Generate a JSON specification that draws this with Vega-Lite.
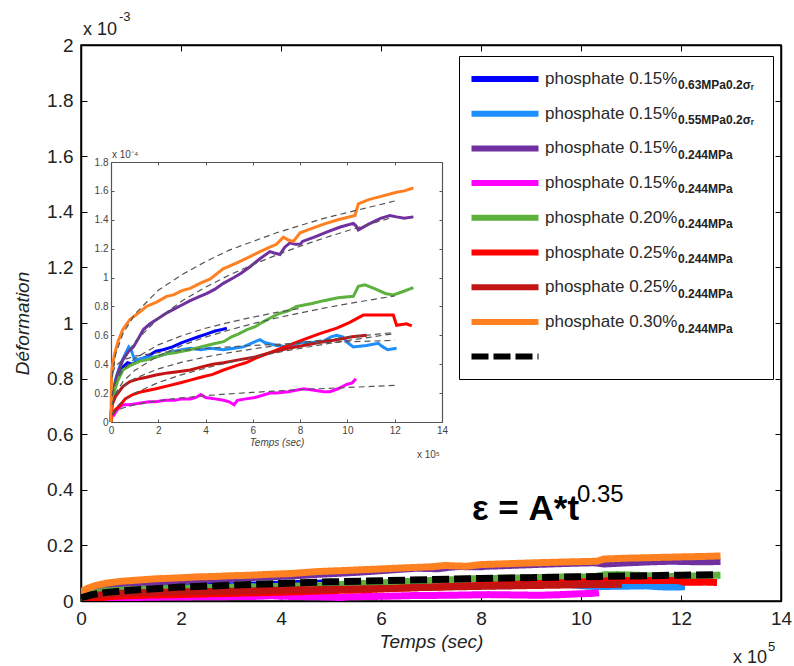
{
  "$schema": "https://vega.github.io/schema/vega-lite/v6.json",
  "width": 700,
  "height": 556,
  "autosize": "none",
  "padding": {"left": 81, "top": 45, "right": 13, "bottom": 65},
  "background": "white",
  "config": {
    "view": {"stroke": "black", "strokeWidth": 1.5},
    "font": "Liberation Sans",
    "axis": {"grid": false, "labelFont": "Liberation Sans", "titleFont": "Liberation Sans", "labelFlush": false, "labelOverlap": false}
  },
  "datasets": {
    "curves": [
      {"s":"1","t":0,"v":0},{"s":"1","t":0.03,"v":0.15},{"s":"1","t":0.1,"v":0.22},{"s":"1","t":0.2,"v":0.27},{"s":"1","t":0.35,"v":0.33},{"s":"1","t":0.5,"v":0.38},{"s":"1","t":0.7,"v":0.41},{"s":"1","t":0.9,"v":0.40},{"s":"1","t":1.2,"v":0.43},{"s":"1","t":1.5,"v":0.45},{"s":"1","t":1.9,"v":0.49},{"s":"1","t":2.2,"v":0.50},{"s":"1","t":2.6,"v":0.52},{"s":"1","t":3.0,"v":0.55},{"s":"1","t":3.35,"v":0.57},{"s":"1","t":3.7,"v":0.59},{"s":"1","t":4.06,"v":0.61},{"s":"1","t":4.4,"v":0.63},{"s":"1","t":4.7,"v":0.64},{"s":"1","t":4.9,"v":0.65},
      {"s":"2","t":0,"v":0},{"s":"2","t":0.05,"v":0.18},{"s":"2","t":0.2,"v":0.3},{"s":"2","t":0.4,"v":0.4},{"s":"2","t":0.6,"v":0.47},{"s":"2","t":0.75,"v":0.52},{"s":"2","t":0.85,"v":0.50},{"s":"2","t":1.0,"v":0.43},{"s":"2","t":1.3,"v":0.44},{"s":"2","t":1.6,"v":0.45},{"s":"2","t":1.9,"v":0.45},{"s":"2","t":2.3,"v":0.47},{"s":"2","t":2.7,"v":0.49},{"s":"2","t":3.0,"v":0.50},{"s":"2","t":3.35,"v":0.51},{"s":"2","t":3.8,"v":0.50},{"s":"2","t":4.2,"v":0.51},{"s":"2","t":4.76,"v":0.50},{"s":"2","t":5.2,"v":0.51},{"s":"2","t":5.6,"v":0.52},{"s":"2","t":6.0,"v":0.55},{"s":"2","t":6.3,"v":0.57},{"s":"2","t":6.5,"v":0.55},{"s":"2","t":7.0,"v":0.53},{"s":"2","t":7.5,"v":0.52},{"s":"2","t":8.0,"v":0.55},{"s":"2","t":8.5,"v":0.55},{"s":"2","t":9.0,"v":0.56},{"s":"2","t":9.3,"v":0.59},{"s":"2","t":9.55,"v":0.60},{"s":"2","t":9.8,"v":0.59},{"s":"2","t":10.0,"v":0.55},{"s":"2","t":10.25,"v":0.52},{"s":"2","t":10.8,"v":0.53},{"s":"2","t":11.3,"v":0.545},{"s":"2","t":11.5,"v":0.52},{"s":"2","t":11.7,"v":0.50},{"s":"2","t":12.08,"v":0.51},
      {"s":"3","t":0,"v":0},{"s":"3","t":0.03,"v":0.12},{"s":"3","t":0.1,"v":0.2},{"s":"3","t":0.25,"v":0.32},{"s":"3","t":0.5,"v":0.43},{"s":"3","t":0.75,"v":0.49},{"s":"3","t":0.95,"v":0.52},{"s":"3","t":1.2,"v":0.59},{"s":"3","t":1.37,"v":0.64},{"s":"3","t":1.65,"v":0.68},{"s":"3","t":1.93,"v":0.71},{"s":"3","t":2.3,"v":0.75},{"s":"3","t":2.64,"v":0.78},{"s":"3","t":3.0,"v":0.81},{"s":"3","t":3.35,"v":0.84},{"s":"3","t":3.76,"v":0.87},{"s":"3","t":4.06,"v":0.89},{"s":"3","t":4.4,"v":0.92},{"s":"3","t":4.75,"v":0.96},{"s":"3","t":5.2,"v":1.00},{"s":"3","t":5.5,"v":1.03},{"s":"3","t":5.88,"v":1.075},{"s":"3","t":6.3,"v":1.13},{"s":"3","t":6.72,"v":1.18},{"s":"3","t":6.9,"v":1.17},{"s":"3","t":7.15,"v":1.16},{"s":"3","t":7.35,"v":1.21},{"s":"3","t":7.57,"v":1.24},{"s":"3","t":7.8,"v":1.23},{"s":"3","t":8.0,"v":1.23},{"s":"3","t":8.1,"v":1.25},{"s":"3","t":8.6,"v":1.28},{"s":"3","t":9.2,"v":1.32},{"s":"3","t":9.7,"v":1.35},{"s":"3","t":10.25,"v":1.375},{"s":"3","t":10.35,"v":1.36},{"s":"3","t":10.46,"v":1.33},{"s":"3","t":10.9,"v":1.37},{"s":"3","t":11.4,"v":1.41},{"s":"3","t":11.8,"v":1.43},{"s":"3","t":12.08,"v":1.42},{"s":"3","t":12.4,"v":1.41},{"s":"3","t":12.79,"v":1.42},
      {"s":"4","t":0.1,"v":0.04},{"s":"4","t":0.2,"v":0.07},{"s":"4","t":0.35,"v":0.10},{"s":"4","t":0.5,"v":0.12},{"s":"4","t":0.8,"v":0.12},{"s":"4","t":1.2,"v":0.13},{"s":"4","t":1.6,"v":0.14},{"s":"4","t":1.9,"v":0.14},{"s":"4","t":2.3,"v":0.15},{"s":"4","t":2.7,"v":0.15},{"s":"4","t":3.0,"v":0.16},{"s":"4","t":3.35,"v":0.16},{"s":"4","t":3.6,"v":0.17},{"s":"4","t":3.8,"v":0.19},{"s":"4","t":4.0,"v":0.17},{"s":"4","t":4.4,"v":0.16},{"s":"4","t":4.76,"v":0.15},{"s":"4","t":5.0,"v":0.14},{"s":"4","t":5.2,"v":0.12},{"s":"4","t":5.35,"v":0.15},{"s":"4","t":5.7,"v":0.16},{"s":"4","t":6.1,"v":0.17},{"s":"4","t":6.73,"v":0.20},{"s":"4","t":7.0,"v":0.20},{"s":"4","t":7.5,"v":0.21},{"s":"4","t":8.14,"v":0.23},{"s":"4","t":8.6,"v":0.22},{"s":"4","t":9.0,"v":0.21},{"s":"4","t":9.26,"v":0.21},{"s":"4","t":9.6,"v":0.23},{"s":"4","t":9.97,"v":0.26},{"s":"4","t":10.2,"v":0.27},{"s":"4","t":10.36,"v":0.30},
      {"s":"5","t":0,"v":0},{"s":"5","t":0.05,"v":0.15},{"s":"5","t":0.15,"v":0.22},{"s":"5","t":0.3,"v":0.29},{"s":"5","t":0.5,"v":0.36},{"s":"5","t":0.8,"v":0.39},{"s":"5","t":1.2,"v":0.42},{"s":"5","t":1.5,"v":0.43},{"s":"5","t":1.9,"v":0.45},{"s":"5","t":2.3,"v":0.47},{"s":"5","t":2.7,"v":0.48},{"s":"5","t":3.0,"v":0.49},{"s":"5","t":3.35,"v":0.50},{"s":"5","t":3.8,"v":0.52},{"s":"5","t":4.3,"v":0.54},{"s":"5","t":4.76,"v":0.556},{"s":"5","t":5.1,"v":0.59},{"s":"5","t":5.4,"v":0.61},{"s":"5","t":5.75,"v":0.64},{"s":"5","t":6.1,"v":0.66},{"s":"5","t":6.4,"v":0.69},{"s":"5","t":6.73,"v":0.72},{"s":"5","t":7.1,"v":0.75},{"s":"5","t":7.5,"v":0.77},{"s":"5","t":7.85,"v":0.80},{"s":"5","t":8.5,"v":0.82},{"s":"5","t":9.0,"v":0.84},{"s":"5","t":9.6,"v":0.86},{"s":"5","t":10.25,"v":0.87},{"s":"5","t":10.46,"v":0.94},{"s":"5","t":10.74,"v":0.95},{"s":"5","t":11.2,"v":0.92},{"s":"5","t":11.6,"v":0.89},{"s":"5","t":11.94,"v":0.88},{"s":"5","t":12.3,"v":0.90},{"s":"5","t":12.79,"v":0.93},
      {"s":"6","t":0,"v":0},{"s":"6","t":0.05,"v":0.05},{"s":"6","t":0.15,"v":0.08},{"s":"6","t":0.35,"v":0.11},{"s":"6","t":0.6,"v":0.16},{"s":"6","t":0.92,"v":0.19},{"s":"6","t":1.3,"v":0.21},{"s":"6","t":1.9,"v":0.23},{"s":"6","t":2.4,"v":0.25},{"s":"6","t":2.9,"v":0.27},{"s":"6","t":3.35,"v":0.29},{"s":"6","t":3.8,"v":0.31},{"s":"6","t":4.3,"v":0.33},{"s":"6","t":4.76,"v":0.36},{"s":"6","t":5.3,"v":0.39},{"s":"6","t":5.7,"v":0.41},{"s":"6","t":6.1,"v":0.44},{"s":"6","t":6.73,"v":0.48},{"s":"6","t":7.5,"v":0.53},{"s":"6","t":8.14,"v":0.57},{"s":"6","t":8.8,"v":0.61},{"s":"6","t":9.55,"v":0.65},{"s":"6","t":10.1,"v":0.69},{"s":"6","t":10.67,"v":0.74},{"s":"6","t":11.3,"v":0.74},{"s":"6","t":11.94,"v":0.74},{"s":"6","t":12.08,"v":0.67},{"s":"6","t":12.5,"v":0.68},{"s":"6","t":12.72,"v":0.665},
      {"s":"7","t":0,"v":0.05},{"s":"7","t":0.05,"v":0.12},{"s":"7","t":0.2,"v":0.18},{"s":"7","t":0.5,"v":0.245},{"s":"7","t":0.8,"v":0.28},{"s":"7","t":1.2,"v":0.30},{"s":"7","t":1.5,"v":0.31},{"s":"7","t":1.9,"v":0.325},{"s":"7","t":2.4,"v":0.34},{"s":"7","t":2.9,"v":0.35},{"s":"7","t":3.35,"v":0.36},{"s":"7","t":3.8,"v":0.38},{"s":"7","t":4.3,"v":0.40},{"s":"7","t":4.76,"v":0.41},{"s":"7","t":5.4,"v":0.43},{"s":"7","t":6.1,"v":0.45},{"s":"7","t":6.73,"v":0.48},{"s":"7","t":7.5,"v":0.51},{"s":"7","t":8.14,"v":0.53},{"s":"7","t":8.8,"v":0.55},{"s":"7","t":9.55,"v":0.57},{"s":"7","t":10.2,"v":0.59},{"s":"7","t":10.82,"v":0.60},
      {"s":"8","t":0,"v":0},{"s":"8","t":0.02,"v":0.3},{"s":"8","t":0.05,"v":0.38},{"s":"8","t":0.15,"v":0.47},{"s":"8","t":0.3,"v":0.56},{"s":"8","t":0.5,"v":0.64},{"s":"8","t":0.8,"v":0.71},{"s":"8","t":1.2,"v":0.76},{"s":"8","t":1.5,"v":0.80},{"s":"8","t":1.93,"v":0.83},{"s":"8","t":2.35,"v":0.87},{"s":"8","t":2.64,"v":0.88},{"s":"8","t":3.0,"v":0.91},{"s":"8","t":3.35,"v":0.925},{"s":"8","t":3.76,"v":0.96},{"s":"8","t":4.2,"v":0.99},{"s":"8","t":4.74,"v":1.06},{"s":"8","t":5.3,"v":1.10},{"s":"8","t":5.88,"v":1.145},{"s":"8","t":6.3,"v":1.18},{"s":"8","t":6.72,"v":1.21},{"s":"8","t":7.0,"v":1.23},{"s":"8","t":7.29,"v":1.28},{"s":"8","t":7.5,"v":1.26},{"s":"8","t":7.71,"v":1.25},{"s":"8","t":8.0,"v":1.31},{"s":"8","t":8.5,"v":1.34},{"s":"8","t":9.0,"v":1.37},{"s":"8","t":9.6,"v":1.40},{"s":"8","t":10.32,"v":1.43},{"s":"8","t":10.46,"v":1.51},{"s":"8","t":10.9,"v":1.54},{"s":"8","t":11.38,"v":1.56},{"s":"8","t":12.08,"v":1.59},{"s":"8","t":12.4,"v":1.60},{"s":"8","t":12.79,"v":1.62}
    ],
    "fits": [
      {"f":"o","t":0.05,"v":0.31},{"f":"o","t":0.2,"v":0.47},{"f":"o","t":0.5,"v":0.61},{"f":"o","t":1,"v":0.745},{"f":"o","t":2,"v":0.912},{"f":"o","t":3,"v":1.02},{"f":"o","t":4,"v":1.11},{"f":"o","t":5,"v":1.19},{"f":"o","t":6,"v":1.25},{"f":"o","t":7,"v":1.31},{"f":"o","t":8,"v":1.36},{"f":"o","t":9,"v":1.41},{"f":"o","t":10,"v":1.45},{"f":"o","t":11,"v":1.49},{"f":"o","t":12,"v":1.53},
      {"f":"p","t":0.05,"v":0.177},{"f":"p","t":0.2,"v":0.30},{"f":"p","t":0.5,"v":0.42},{"f":"p","t":1,"v":0.552},{"f":"p","t":2,"v":0.718},{"f":"p","t":3,"v":0.838},{"f":"p","t":4,"v":0.934},{"f":"p","t":5,"v":1.017},{"f":"p","t":6,"v":1.09},{"f":"p","t":7,"v":1.156},{"f":"p","t":8,"v":1.217},{"f":"p","t":9,"v":1.273},{"f":"p","t":10,"v":1.324},{"f":"p","t":11,"v":1.373},{"f":"p","t":12,"v":1.42},
      {"f":"g","t":0.05,"v":0.121},{"f":"g","t":0.2,"v":0.20},{"f":"g","t":0.5,"v":0.278},{"f":"g","t":1,"v":0.357},{"f":"g","t":2,"v":0.458},{"f":"g","t":3,"v":0.53},{"f":"g","t":4,"v":0.588},{"f":"g","t":5,"v":0.637},{"f":"g","t":6,"v":0.681},{"f":"g","t":7,"v":0.72},{"f":"g","t":8,"v":0.755},{"f":"g","t":9,"v":0.788},{"f":"g","t":10,"v":0.818},{"f":"g","t":11,"v":0.846},{"f":"g","t":12,"v":0.873},
      {"f":"b","t":0.05,"v":0.19},{"f":"b","t":0.2,"v":0.28},{"f":"b","t":0.5,"v":0.36},{"f":"b","t":1,"v":0.44},{"f":"b","t":2,"v":0.534},{"f":"b","t":3,"v":0.598},{"f":"b","t":4,"v":0.649},{"f":"b","t":5,"v":0.69},{"f":"b","t":6,"v":0.726},{"f":"b","t":7,"v":0.759},{"f":"b","t":8,"v":0.787},
      {"f":"l","t":0.05,"v":0.34},{"f":"l","t":0.2,"v":0.39},{"f":"l","t":0.5,"v":0.43},{"f":"l","t":1,"v":0.455},{"f":"l","t":2,"v":0.48},{"f":"l","t":4,"v":0.51},{"f":"l","t":6,"v":0.53},{"f":"l","t":8,"v":0.545},{"f":"l","t":10,"v":0.555},{"f":"l","t":12,"v":0.565},
      {"f":"r","t":0.05,"v":0.052},{"f":"r","t":0.2,"v":0.097},{"f":"r","t":0.5,"v":0.146},{"f":"r","t":1,"v":0.2},{"f":"r","t":2,"v":0.273},{"f":"r","t":3,"v":0.328},{"f":"r","t":4,"v":0.373},{"f":"r","t":5,"v":0.413},{"f":"r","t":6,"v":0.448},{"f":"r","t":7,"v":0.48},{"f":"r","t":8,"v":0.51},{"f":"r","t":9,"v":0.538},{"f":"r","t":10,"v":0.564},{"f":"r","t":11,"v":0.588},{"f":"r","t":12,"v":0.612},
      {"f":"d","t":0.05,"v":0.126},{"f":"d","t":0.2,"v":0.189},{"f":"d","t":0.5,"v":0.246},{"f":"d","t":1,"v":0.301},{"f":"d","t":2,"v":0.368},{"f":"d","t":3,"v":0.414},{"f":"d","t":4,"v":0.45},{"f":"d","t":5,"v":0.48},{"f":"d","t":6,"v":0.506},{"f":"d","t":7,"v":0.529},{"f":"d","t":8,"v":0.55},{"f":"d","t":9,"v":0.569},{"f":"d","t":10,"v":0.587},{"f":"d","t":11,"v":0.604},{"f":"d","t":12,"v":0.619},
      {"f":"m","t":0.05,"v":0.049},{"f":"m","t":0.2,"v":0.074},{"f":"m","t":0.5,"v":0.097},{"f":"m","t":1,"v":0.12},{"f":"m","t":2,"v":0.148},{"f":"m","t":3,"v":0.167},{"f":"m","t":4,"v":0.182},{"f":"m","t":5,"v":0.195},{"f":"m","t":6,"v":0.205},{"f":"m","t":7,"v":0.215},{"f":"m","t":8,"v":0.224},{"f":"m","t":9,"v":0.232},{"f":"m","t":10,"v":0.239},{"f":"m","t":11,"v":0.246},{"f":"m","t":12,"v":0.253}
    ],
    "mainfit": [
      {"s":"9","t":0,"v":0.12},{"s":"9","t":0.05,"v":0.14},{"s":"9","t":0.2,"v":0.22},{"s":"9","t":0.5,"v":0.31},{"s":"9","t":1,"v":0.39},{"s":"9","t":2,"v":0.50},{"s":"9","t":3,"v":0.57},{"s":"9","t":4,"v":0.63},{"s":"9","t":5,"v":0.69},{"s":"9","t":6,"v":0.73},{"s":"9","t":7,"v":0.77},{"s":"9","t":8,"v":0.81},{"s":"9","t":9,"v":0.84},{"s":"9","t":10,"v":0.87},{"s":"9","t":11,"v":0.90},{"s":"9","t":12,"v":0.93},{"s":"9","t":12.7,"v":0.95}
    ]
  },
  "resolve": {"scale": {"x": "independent", "y": "independent"}},
  "layer": [
    {
      "layer": [
        {
          "data": {"name": "curves"},
          "mark": {"type": "line", "strokeWidth": 7, "clip": true},
          "encoding": {
            "x": {"field": "t", "type": "quantitative", "scale": {"domain": [0, 14], "nice": false},
              "axis": {"values": [0,2,4,6,8,10,12,14], "format": "~g", "tickSize": -6, "tickColor": "black", "labelPadding": 14, "labelFontSize": 19, "labelColor": "#222", "domainColor": "black", "domainWidth": 1.5, "title": "Temps (sec)", "titleFontSize": 19, "titleFontStyle": "italic", "titleFontWeight": "normal", "titleColor": "#222", "titlePadding": 4}},
            "y": {"field": "v", "type": "quantitative", "scale": {"domain": [0, 20], "nice": false},
              "axis": {"values": [0,2,4,6,8,10,12,14,16,18,20], "labelExpr": "format(datum.value/10, '~g')", "tickSize": -6, "tickColor": "black", "labelPadding": 14, "labelFontSize": 19, "labelColor": "#222", "domainColor": "black", "domainWidth": 1.5, "title": "Déformation", "titleFontSize": 19, "titleFontStyle": "italic", "titleFontWeight": "normal", "titleColor": "#222", "titlePadding": 14}},
            "color": {"field": "s", "type": "nominal",
              "scale": {"domain": ["1","2","3","4","5","6","7","8","9"], "range": ["#0000FF","#1E8FFF","#7030A0","#FF00FF","#5CB23D","#FF0000","#C31414","#FF8020","#000000"]},
              "legend": {"orient": "none", "legendX": 378, "legendY": 11, "title": "\u200b\u2003\u2003\u2003\u2003\u2003\u2003\u2003\u2003\u2003\u2003\u2003\u2003\u2003\u2003\u2003\u2003\u2003\u2003\u2003\u2003\u2003\u2003\u2003\u2003\u2003\u2003\u2003\u200b", "titleOrient": "right", "titleAngle": 0, "titleFontSize": 3, "titlePadding": 5, "titleLimit": 600, "strokeColor": "black", "fillColor": "white", "padding": 10, "symbolType": "M-3.35,0H3.35", "symbolSize": 400, "symbolStrokeWidth": 6, "symbolOffset": 23, "labelOffset": 27, "labelFontSize": 17, "labelColor": "#2a2a2a", "labelLimit": 400, "rowPadding": 9.7,
                "labelExpr": "['phosphate 0.15%','phosphate 0.15%','phosphate 0.15%','phosphate 0.15%','phosphate 0.20%','phosphate 0.25%','phosphate 0.25%','phosphate 0.30%',''][toNumber(datum.label)-1]"}},
            "strokeDash": {"field": "s", "type": "nominal",
              "scale": {"domain": ["1","2","3","4","5","6","7","8","9"], "range": [[1,0],[1,0],[1,0],[1,0],[1,0],[1,0],[1,0],[1,0],[17,5]]},
              "legend": {"orient": "none", "legendX": 378, "legendY": 11, "title": "\u200b\u2003\u2003\u2003\u2003\u2003\u2003\u2003\u2003\u2003\u2003\u2003\u2003\u2003\u2003\u2003\u2003\u2003\u2003\u2003\u2003\u2003\u2003\u2003\u2003\u2003\u2003\u2003\u200b", "titleOrient": "right", "titleAngle": 0, "titleFontSize": 3, "titlePadding": 5, "titleLimit": 600, "strokeColor": "black", "fillColor": "white", "padding": 10, "symbolType": "M-3.35,0H3.35", "symbolSize": 400, "symbolStrokeWidth": 6, "symbolOffset": 23, "labelOffset": 27, "labelFontSize": 17, "labelColor": "#2a2a2a", "labelLimit": 400, "rowPadding": 9.7,
                "labelExpr": "['phosphate 0.15%','phosphate 0.15%','phosphate 0.15%','phosphate 0.15%','phosphate 0.20%','phosphate 0.25%','phosphate 0.25%','phosphate 0.30%',''][toNumber(datum.label)-1]"}},
            "opacity": {"field": "s", "type": "ordinal",
              "scale": {"type": "point", "domain": ["1","2","3","4","5","6","7","8"], "range": [1, 1]},
              "legend": {"orient": "none", "legendX": 565, "legendY": 18, "title": null, "padding": 12, "symbolType": "M0,0", "symbolSize": 400, "symbolStrokeWidth": 0, "labelOffset": 0, "labelFontSize": 12, "labelFontWeight": "bold", "labelColor": "#222", "labelLimit": 300, "rowPadding": 18.8,
                "labelExpr": "['0.63MPa0.2σᵣ','0.55MPa0.2σᵣ','0.244MPa','0.244MPa','0.244MPa','0.244MPa','0.244MPa','0.244MPa'][toNumber(datum.label)-1]"}}
          }
        },
        {
          "data": {"name": "mainfit"},
          "mark": {"type": "line", "strokeWidth": 7, "clip": true},
          "encoding": {
            "x": {"field": "t", "type": "quantitative"},
            "y": {"field": "v", "type": "quantitative"},
            "color": {"field": "s", "type": "nominal"},
            "strokeDash": {"field": "s", "type": "nominal"}
          }
        },
        {
          "data": {"values": [{}]},
          "mark": {"type": "text", "text": "ε = A*t", "fontSize": 35, "fontWeight": "bold", "align": "left", "baseline": "alphabetic", "color": "black"},
          "encoding": {"x": {"datum": 7.82}, "y": {"datum": 2.91}}
        },
        {
          "data": {"values": [{}]},
          "mark": {"type": "text", "text": "0.35", "fontSize": 24, "align": "left", "baseline": "alphabetic", "color": "black"},
          "encoding": {"x": {"datum": 9.92}, "y": {"datum": 3.55}}
        },
        {
          "data": {"values": [{}]},
          "mark": {"type": "text", "text": "x 10", "fontSize": 18, "align": "left", "baseline": "alphabetic", "color": "#222", "dx": 2, "dy": -10},
          "encoding": {"x": {"datum": 0}, "y": {"datum": 20}}
        },
        {
          "data": {"values": [{}]},
          "mark": {"type": "text", "text": "-3", "fontSize": 13, "align": "left", "baseline": "alphabetic", "color": "#222", "dx": 38, "dy": -24},
          "encoding": {"x": {"datum": 0}, "y": {"datum": 20}}
        },
        {
          "data": {"values": [{}]},
          "mark": {"type": "text", "text": "x 10", "fontSize": 18, "align": "left", "baseline": "alphabetic", "color": "#222", "dx": -48, "dy": 62},
          "encoding": {"x": {"datum": 14}, "y": {"datum": 0}}
        },
        {
          "data": {"values": [{}]},
          "mark": {"type": "text", "text": "5", "fontSize": 13, "align": "left", "baseline": "alphabetic", "color": "#222", "dx": -13, "dy": 50},
          "encoding": {"x": {"datum": 14}, "y": {"datum": 0}}
        }
      ]
    },
    {
      "data": {"name": "mainfit"},
      "mark": {"type": "line", "opacity": 0},
      "encoding": {
        "x": {"field": "t", "type": "quantitative", "scale": {"domain": [0, 14], "nice": false},
          "axis": {"orient": "top", "values": [0,2,4,6,8,10,12,14], "labels": false, "title": null, "tickSize": -6, "tickColor": "black", "domainColor": "black", "domainWidth": 1.5}},
        "y": {"field": "v", "type": "quantitative", "scale": {"domain": [0, 20], "nice": false},
          "axis": {"orient": "right", "values": [0,2,4,6,8,10,12,14,16,18,20], "labels": false, "title": null, "tickSize": -6, "tickColor": "black", "domainColor": "black", "domainWidth": 1.5}}
      }
    },
    {
      "layer": [
        {
          "data": {"name": "curves"},
          "mark": {"type": "line", "strokeWidth": 3},
          "encoding": {
            "x": {"field": "t", "type": "quantitative", "scale": {"domain": [0, 14], "nice": false, "range": [30, 361]},
              "axis": {"orient": "bottom", "offset": -179, "values": [0,2,4,6,8,10,12,14], "format": "~g", "tickSize": -3, "tickColor": "#555", "labelPadding": 6, "labelFontSize": 10, "labelColor": "#444", "domainColor": "#555", "domainWidth": 1.2, "title": "Temps (sec)", "titleFontSize": 10, "titleFontStyle": "italic", "titleFontWeight": "normal", "titleColor": "#444", "titlePadding": 2}},
            "y": {"field": "v", "type": "quantitative", "scale": {"domain": [0, 1.8], "nice": false, "range": [377, 117]},
              "axis": {"orient": "left", "offset": -30, "values": [0,0.2,0.4,0.6,0.8,1,1.2,1.4,1.6,1.8], "format": "~g", "tickSize": -3, "tickColor": "#555", "labelPadding": 6, "labelFontSize": 10, "labelColor": "#444", "domainColor": "#555", "domainWidth": 1.2, "title": null}},
            "color": {"field": "s", "type": "nominal"}
          }
        },
        {
          "data": {"name": "fits"},
          "mark": {"type": "line", "strokeWidth": 1.2, "strokeDash": [6, 4], "color": "#555"},
          "encoding": {
            "x": {"field": "t", "type": "quantitative"},
            "y": {"field": "v", "type": "quantitative"},
            "detail": {"field": "f", "type": "nominal"}
          }
        },
        {
          "data": {"values": [{}]},
          "mark": {"type": "text", "text": "x 10⁻⁴", "fontSize": 10, "align": "left", "baseline": "alphabetic", "color": "#444", "dx": 1, "dy": -4},
          "encoding": {"x": {"datum": 0}, "y": {"datum": 1.8}}
        },
        {
          "data": {"values": [{}]},
          "mark": {"type": "text", "text": "x 10⁵", "fontSize": 10, "align": "right", "baseline": "alphabetic", "color": "#444", "dx": -2, "dy": 36},
          "encoding": {"x": {"datum": 14}, "y": {"datum": 0}}
        }
      ]
    },
    {
      "data": {"name": "mainfit"},
      "mark": {"type": "line", "opacity": 0},
      "encoding": {
        "x": {"field": "t", "type": "quantitative", "scale": {"domain": [0, 14], "nice": false, "range": [30, 361]},
          "axis": {"orient": "top", "offset": -117, "values": [0,2,4,6,8,10,12,14], "labels": false, "title": null, "tickSize": -3, "tickColor": "#555", "domainColor": "#555", "domainWidth": 1.2}},
        "y": {"field": "v", "type": "quantitative", "scale": {"domain": [0, 1.8], "nice": false, "range": [377, 117]},
          "axis": {"orient": "right", "offset": -339, "values": [0,0.2,0.4,0.6,0.8,1,1.2,1.4,1.6,1.8], "labels": false, "title": null, "tickSize": -3, "tickColor": "#555", "domainColor": "#555", "domainWidth": 1.2}}
      }
    }
  ]
}
